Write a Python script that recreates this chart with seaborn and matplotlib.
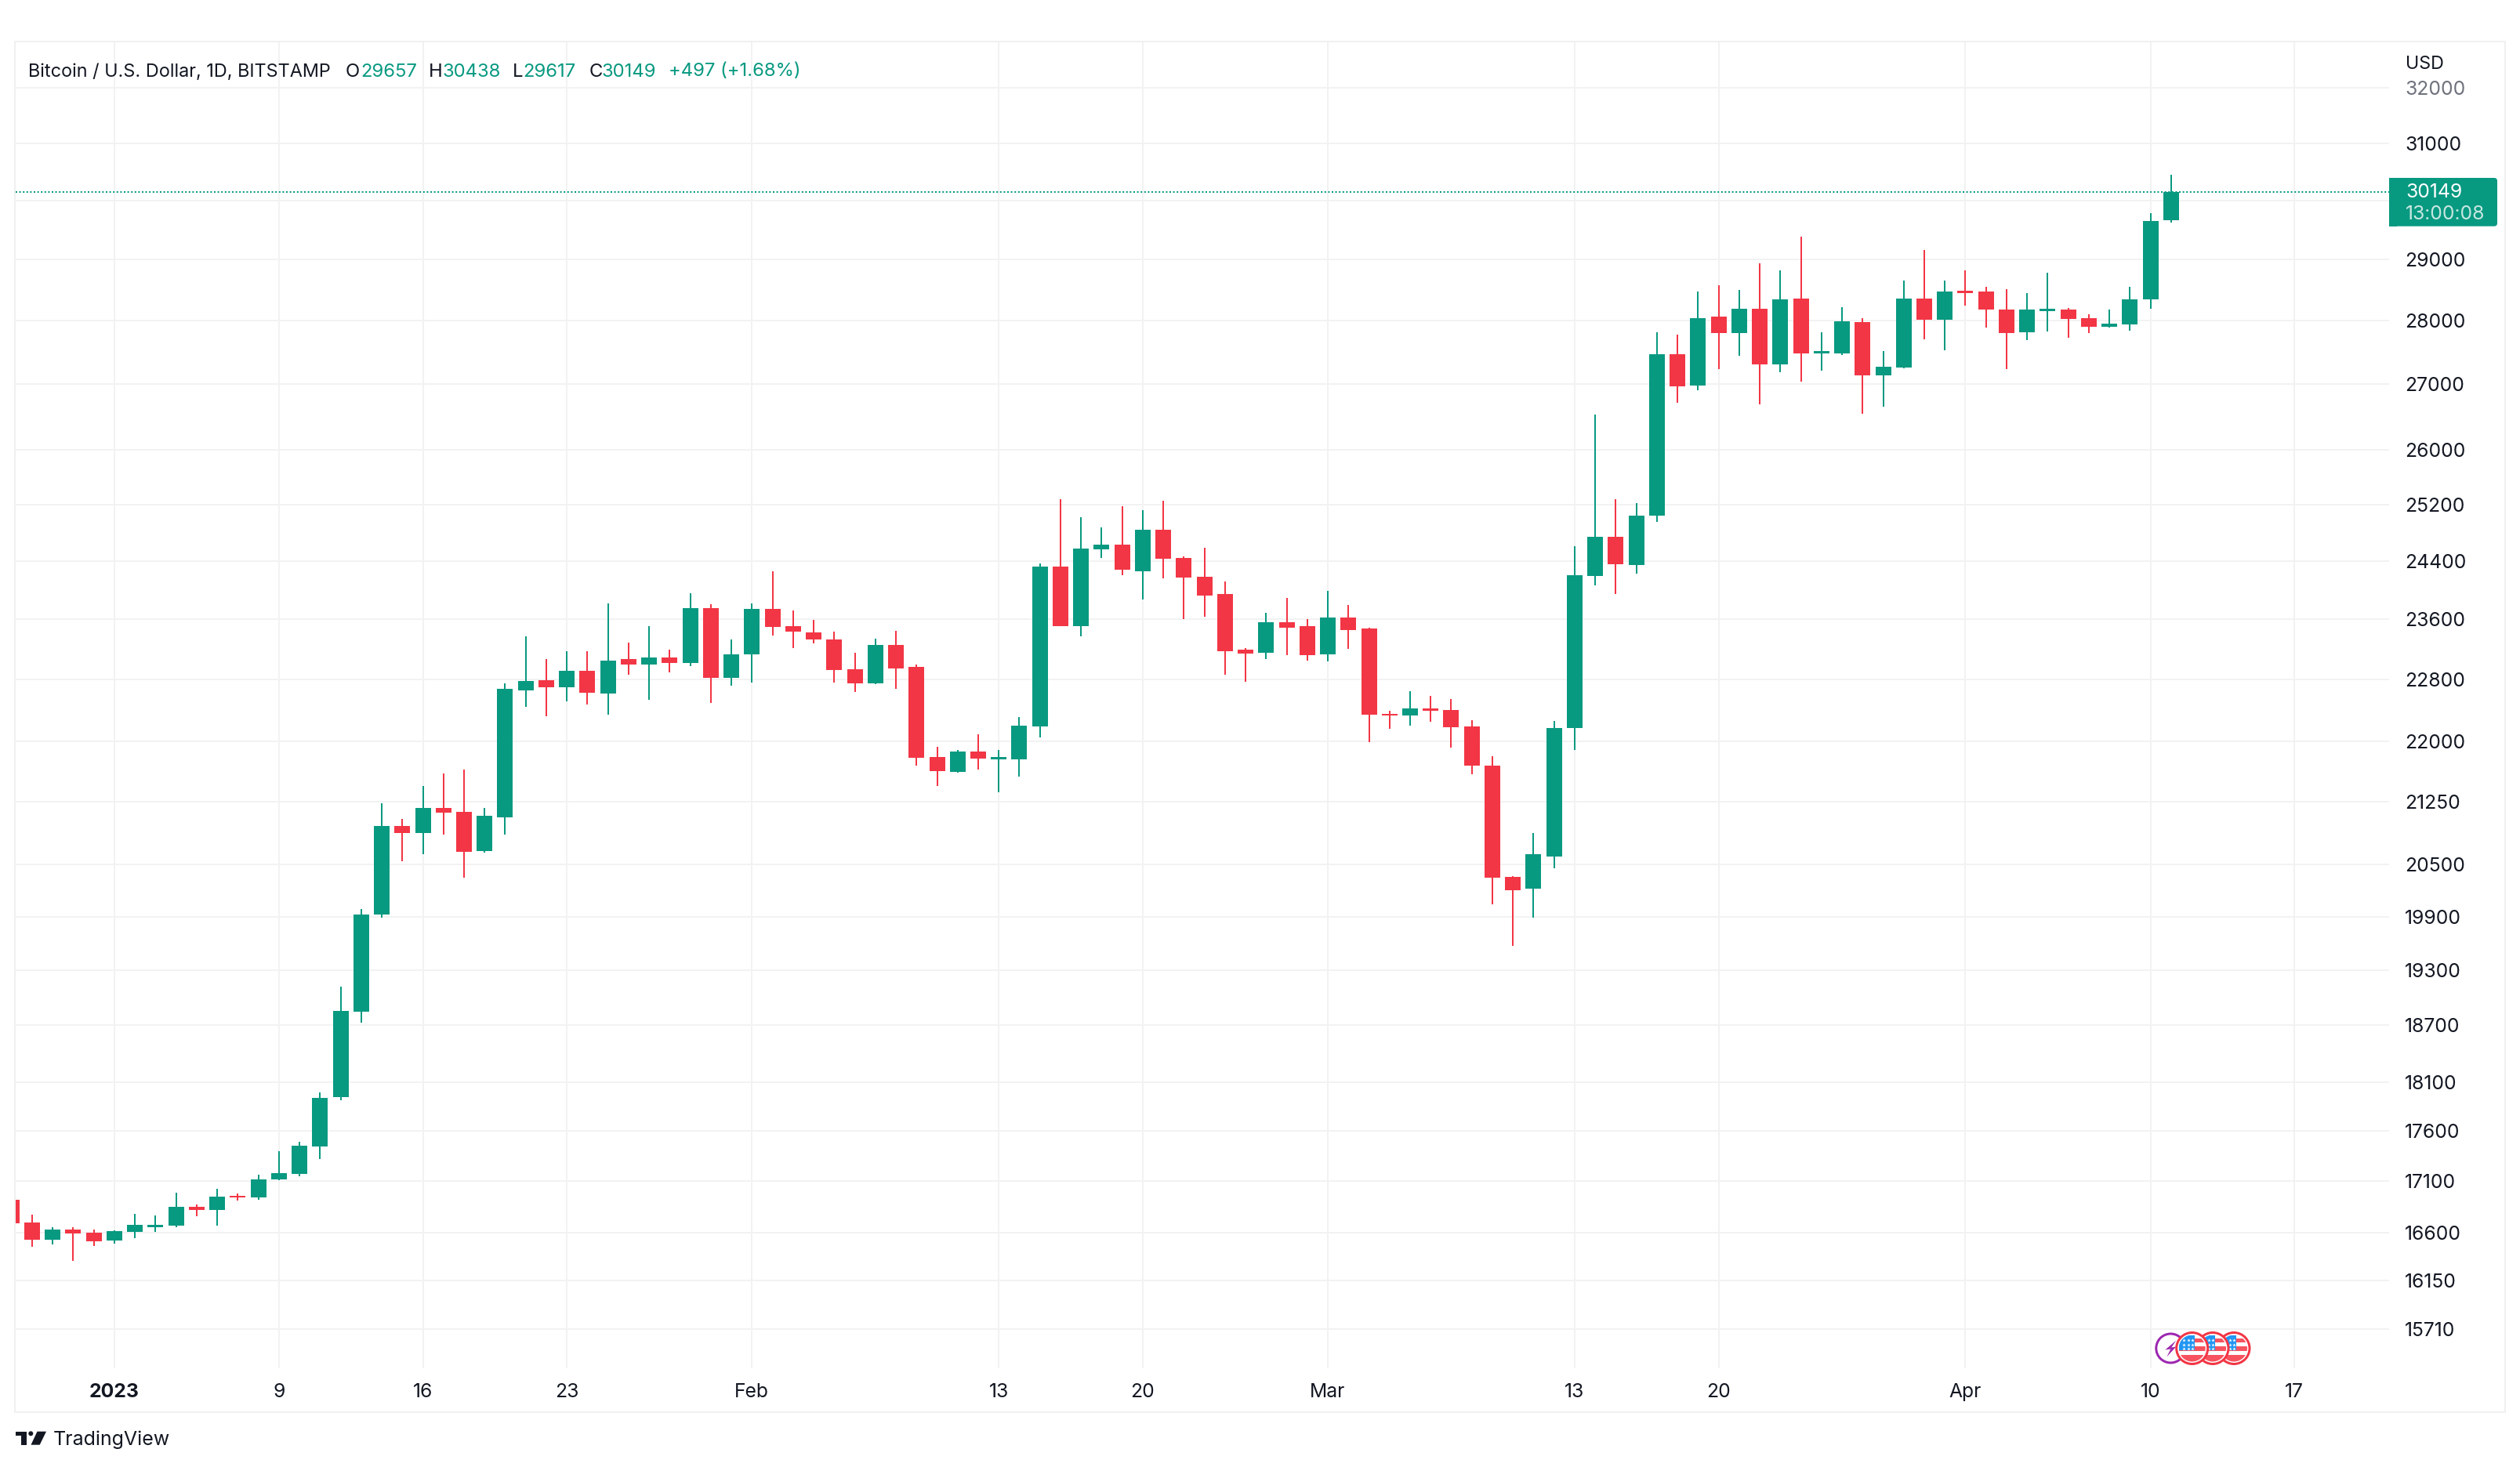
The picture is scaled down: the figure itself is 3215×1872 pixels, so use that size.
import matplotlib
matplotlib.use('Agg')
import matplotlib.pyplot as plt
from matplotlib.patches import Circle, FancyBboxPatch, Polygon, Rectangle
import numpy as np
import pandas as pd
import seaborn as sns

# Daily candles, 27 Dec 2022 to 11 Apr 2023
opens = [16920, 16698, 16536, 16630, 16600,
         16528, 16610, 16655, 16670, 16850, 16822, 16956, 16939, 17116, 17170, 17444, 17941, 18846, 19923, 20956,
         20872, 21181, 21134, 20666, 21069, 22657, 22787, 22697, 22912, 22617, 23060, 22996, 23081, 23017, 23746, 22818,
         23123, 23735, 23502, 23418, 23323, 22933, 22747, 23249, 22965, 21802, 21617, 21870, 21773, 21779, 22195, 24320,
         23508, 24564, 24629, 24254, 24844, 24437, 24179, 23936, 23185, 23150, 23561, 23500,
         23132, 23626, 23469, 22352, 22332, 22423, 22402, 22195, 21695, 20360, 20217, 20601, 22174, 24192, 24741, 24342,
         25036, 27467, 26976, 28073, 27799, 28188, 27307, 28355, 27480, 27480, 27984, 27135, 27258, 28355, 28022,
         28483, 28470, 28175, 27811, 28150, 28175, 28047, 27910, 27947, 28342, 29657]
highs = [16920, 16773, 16652, 16652, 16630,
         16622, 16781, 16766, 16987, 16873, 17024, 16979, 17161, 17397, 17491, 17989, 19120, 19984, 21238, 21050,
         21451, 21597, 21646, 21181, 22747, 23365, 23070, 23165, 23165, 23810, 23281, 23502, 23186, 23949, 23799, 23323,
         23810, 24259, 23714, 23586, 23428, 23144, 23333, 23439, 22997, 21938, 21899, 22087, 21899, 22315, 24360, 25276,
         25013, 24868, 25181, 25116, 25252, 24460, 24587, 24117, 23215, 23680, 23883, 23596,
         23989, 23786, 23478, 22394, 22642, 22584, 22543, 22274, 21820, 20365, 20873, 22261, 24606, 26534, 25276, 25219,
         27811, 27775, 28470, 28573, 28496, 28932, 28816, 29388, 27811, 28214, 28047, 27516, 28650, 29166, 28650,
         28816, 28547, 28509, 28444, 28782, 28201, 28111, 28175, 28547, 29782, 30438]
lows = [16692, 16470, 16491, 16336, 16477,
        16499, 16551, 16610, 16655, 16761, 16670, 16913, 16916, 17108, 17147, 17319, 17910, 18726, 19891, 20544,
        20628, 20862, 20352, 20647, 20862, 22437, 22317, 22517, 22467, 22337, 22860, 22537, 22891, 22975, 22497, 22717,
        22757, 23375, 23207, 23270, 22757, 22637, 22740, 22677, 21695, 21451, 21607, 21646, 21373, 21567, 22054, 23500,
        23364, 24437, 24201, 23861, 24161, 23596, 23635, 22857, 22763, 23067, 23119, 23045,
        23036, 23202, 21992, 22162, 22203, 22253, 21924, 21587, 20043, 19568, 19889, 20455, 21896, 24064, 23936, 24223,
        24947, 26713, 26904, 27234, 27443, 26689, 27185, 27037, 27209, 27455, 26546, 26653, 27250, 27701, 27529,
        28239, 27885, 27234, 27689, 27824, 27725, 27799, 27885, 27836, 28188, 29617]
closes = [16692, 16536, 16630, 16595, 16521,
          16615, 16675, 16675, 16850, 16822, 16948, 16941, 17116, 17178, 17452, 17933, 18854, 19923, 20956, 20872,
          21181, 21125, 20656, 21087, 22677, 22777, 22697, 22912, 22627, 23049, 22996, 23081, 23017, 23746, 22818, 23123,
          23735, 23491, 23428, 23323, 22923, 22747, 23249, 22944, 21792, 21627, 21870, 21782, 21802, 22203, 24320, 23508,
          24573, 24629, 24276, 24844, 24428, 24170, 23923, 23172, 23141, 23561, 23478, 23119,
          23626, 23456, 22344, 22332, 22423, 22394, 22182, 21695, 20353, 20206, 20620, 22174, 24201, 24741, 24351, 25046,
          27467, 26964, 28047, 27799, 28188, 27307, 28342, 27480, 27516, 27996, 27135, 27271, 28355, 28022, 28470,
          28444, 28175, 27799, 28175, 28188, 28034, 27910, 27959, 28342, 29651, 30149]

# Days counted from 1 Jan 2023
first_day = -5
last_price = 30149

price_ticks = [32000, 31000, 30000, 29000, 28000, 27000, 26000, 25200, 24400, 23600, 22800, 22000,
               21250, 20500, 19900, 19300, 18700, 18100, 17600, 17100, 16600, 16150, 15710]
price_labels = ['32000', '31000', '', '29000', '28000', '27000', '26000', '25200', '24400', '23600', '22800', '22000',
                '21250', '20500', '19900', '19300', '18700', '18100', '17600', '17100', '16600', '16150', '15710']
date_ticks = [0, 8, 15, 22, 31, 43, 50, 59, 71, 78, 90, 99, 106]
date_labels = ['2023', '9', '16', '23', 'Feb', '13', '20', 'Mar', '13', '20', 'Apr', '10', '17']

GREEN = '#089981'
RED = '#F23645'
INK = '#131722'
GRID = '#f2f2f3'
W, H = 3216, 1872

sns.set_theme(style='white')
plt.rcParams['font.family'] = ['Inter', 'DejaVu Sans']

df = pd.DataFrame({'open': opens, 'high': highs, 'low': lows, 'close': closes})
df['day'] = first_day + np.arange(len(df))
df['base'] = df[['open', 'close']].min(axis=1)
df['body'] = (df['close'] - df['open']).abs()
df['up'] = df['close'] >= df['open']

fig = plt.figure(figsize=(W / 200, H / 200), dpi=200, facecolor='white')
ax = fig.add_axes([20 / W, 1 - 1746 / H, (3048 - 20) / W, (1746 - 53) / H])

for is_up, color in [(True, GREEN), (False, RED)]:
    part = df[df['up'] == is_up]
    ax.vlines(part['day'], part['low'], part['high'], color=color, linewidth=0.72)
    sns.barplot(data=part, x='day', y='body', bottom=part['base'].values, native_scale=True,
                color=color, saturation=1, width=0.762, errorbar=None, linewidth=0, ax=ax)

ax.axhline(last_price, color=GREEN, linewidth=0.72, linestyle=(0, (1, 1.3)), dash_capstyle='butt')

ax.set_yscale('log')
ax.set_xlim(-4.80, 110.6)
ax.set_ylim(15361, 32860)
ax.set_xlabel('')
ax.set_ylabel('')
ax.minorticks_off()
ax.set_yticks(price_ticks, labels=price_labels)
ax.set_xticks(date_ticks, labels=date_labels)
ax.yaxis.tick_right()
ax.tick_params(axis='y', length=0, pad=7.2, labelsize=8.9, labelcolor=INK)
ax.tick_params(axis='x', length=0, pad=7.0, labelsize=8.9, labelcolor=INK)
ax.get_xticklabels()[0].set_fontweight('bold')
ax.get_yticklabels()[0].set_color('#6f727c')
ax.grid(True, color=GRID, linewidth=0.72)
ax.set_axisbelow(True)
sns.despine(ax=ax, left=True, right=True, top=True, bottom=True)

# Everything around the plot, in pixels of the picture
over = fig.add_axes([0, 0, 1, 1], zorder=5)
over.set_xlim(0, W)
over.set_ylim(H, 0)
over.axis('off')

over.add_patch(Rectangle((19, 53), 3196 - 19, 1802 - 53, fill=False, edgecolor='#f0f0f1', linewidth=0.72))

# Legend line
def legend_text(x, text, color, size=8.6):
    over.text(x, 97.5, text, color=color, fontsize=size, ha='left', va='baseline')

legend_text(36.5, 'Bitcoin / U.S. Dollar, 1D, BITSTAMP', INK, size=8.45)
for x, text in [(441, 'O'), (547, 'H'), (654, 'L'), (752, 'C')]:
    legend_text(x, text, INK)
for x, text in [(460, '29657'), (565, '30438'), (667, '29617'), (768, '30149'), (853, '+497 (+1.68%)')]:
    legend_text(x, text, GREEN)

over.text(3069, 87.5, 'USD', color=INK, fontsize=8.4, ha='left', va='baseline')

# Last price tag
over.add_patch(FancyBboxPatch((3052, 231), 130, 53.7, boxstyle='round,pad=4,rounding_size=4',
                              facecolor=GREEN, edgecolor='none'))
over.add_patch(Rectangle((3048, 227), 10, 61.7, facecolor=GREEN, edgecolor='none'))
over.text(3069, 252, '30149', color='white', fontsize=8.9, ha='left', va='baseline')
over.text(3069, 279.5, '13:00:08', color='#c6e7e0', fontsize=8.9, ha='left', va='baseline')

# TradingView logo
logo = '#131722'
over.add_patch(Polygon([(20, 1826.7), (34, 1826.7), (34, 1843.7), (26.7, 1843.7),
                        (26.7, 1832.3), (20, 1832.3)], facecolor=logo, edgecolor='none'))
over.add_patch(Circle((39.3, 1829.3), 3, facecolor=logo, edgecolor='none'))
over.add_patch(Polygon([(47.5, 1826.7), (59, 1826.7), (50.7, 1843.7), (39.5, 1843.7)], facecolor=logo, edgecolor='none'))
over.text(67.5, 1844, 'TradingView', color=logo, fontsize=9.0, ha='left', va='baseline')

# Event icons at the bottom right
purple = '#9c27b0'
cx, cy = 2769.3, 1720.5
over.add_patch(Circle((cx, cy), 18.5, facecolor='white', edgecolor=purple, linewidth=1.08, zorder=2))
over.add_patch(Polygon([(cx + 7, cy - 10), (cx - 7, cy + 2), (cx, cy + 1), (cx - 5, cy + 11), (cx + 7, cy - 2), (cx + 1, cy - 1)],
                       facecolor=purple, edgecolor='none', zorder=2))

def flag(cx, cy, z):
    over.add_patch(Circle((cx, cy), 20, facecolor='white', edgecolor='none', zorder=z))
    clip = Circle((cx, cy), 17, transform=over.transData)
    for top, bottom in [(-13, -8), (-3, 3), (8, 17)]:
        band = Rectangle((cx - 17, cy + top), 34, bottom - top, facecolor='#f7525f', edgecolor='none', zorder=z)
        over.add_patch(band)
        band.set_clip_path(clip)
    canton = Rectangle((cx - 17, cy - 17), 20, 19, facecolor='#2196f3', edgecolor='none', zorder=z)
    over.add_patch(canton)
    canton.set_clip_path(clip)
    for sx in [-11, -5, 0]:
        for sy in [-11, -5, 0]:
            over.plot(cx + sx, cy + sy, marker='*', color='white', markersize=1.7, markeredgewidth=0, zorder=z)
    over.add_patch(Circle((cx, cy), 20, fill=False, edgecolor=RED, linewidth=1.08, zorder=z))

flag(2850, 1720.5, 3)
flag(2823, 1720.5, 4)
flag(2796.7, 1720.5, 5)

over.set_xlim(0, W)
over.set_ylim(H, 0)
fig.savefig('out.png', dpi=200, facecolor='white')
